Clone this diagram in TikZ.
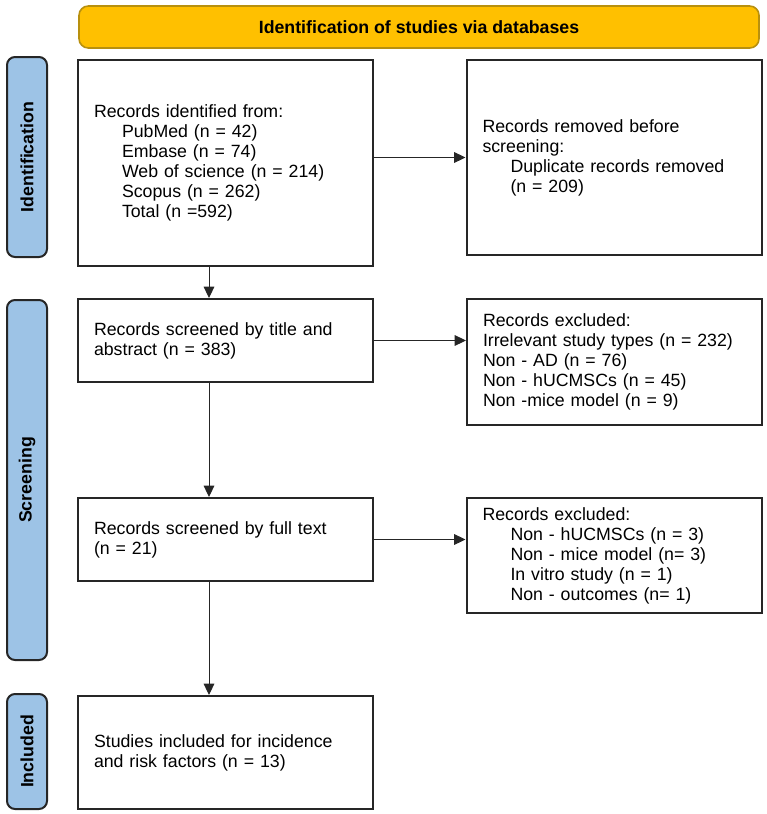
\documentclass[tikz,border=0pt]{standalone}
\usepackage{fontspec}
\setmainfont{Liberation Sans}
\usetikzlibrary{arrows.meta, positioning, calc}
\definecolor{cgold}{HTML}{FFC000}
\definecolor{cgoldline}{HTML}{B8900E}
\definecolor{cblue}{HTML}{9DC3E6}
\definecolor{cdark}{HTML}{262626}
\tikzset{
  every picture/.style={line width=0.75pt},
  box/.style={draw=cdark, line width=1.5pt, fill=white, align=left, inner xsep=12pt, inner ysep=0pt,
    text width=197.25pt, font=\fontsize{13.3}{15}\selectfont},
  tab/.style={draw=cdark, fill=cblue, line width=1.5pt, rounded corners=6pt, minimum height=30pt,
    inner sep=0pt, font=\fontsize{13.3}{15}\selectfont\bfseries},
  banner/.style={draw=cgoldline, fill=cgold, line width=1.2pt, rounded corners=7pt, minimum width=510pt,
    minimum height=31.5pt, font=\fontsize{13.3}{15}\selectfont\bfseries},
  arrow/.style={-{Triangle[length=8.5pt, width=8pt]}, draw=cdark, line width=0.75pt},
}
\newcommand\tabin{\hspace*{21pt}}

\begin{document}
\begin{tikzpicture}[x=0.75pt, y=-0.75pt]
  \useasboundingbox (0,0) rectangle (767,814);
  \node[banner] (head) at (419,27) {Identification of studies via databases};
  % phase tabs on the left
  \foreach[count=\k] \y/\h/\t in {157/150pt/Identification, 480/270pt/Screening, 751.5/86.25pt/Included}
    \node[tab, rotate=90, minimum width=\h] (tab\k) at (27,\y) {\t};
  % main column
  \node[box, minimum height=154.5pt] (ident) at (225.5,163) {Records identified from:\\
    \tabin PubMed (n = 42)\\ \tabin Embase (n = 74)\\ \tabin Web of science (n = 214)\\
    \tabin Scopus (n = 262)\\ \tabin Total (n =592)};
  \node[box, minimum height=62.25pt] (title) at (225.5,340.5) {Records screened by title and\\abstract (n = 383)};
  \node[box, minimum height=62.25pt] (full) at (225.5,539.5) {Records screened by full text\\(n = 21)};
  \node[box, minimum height=84.75pt] (incl) at (225.5,752.5) {Studies included for incidence\\and risk factors (n = 13)};
  % side column
  \node[box, minimum height=146.25pt] (removed) at (614,157.5) {Records removed before\\screening:\\
    \tabin Duplicate records removed\\ \tabin (n = 209)};
  \node[box, minimum height=94.5pt] (excl1) at (614.5,362) {Records excluded:\\Irrelevant study types (n = 232)\\
    Non - AD (n = 76)\\Non - hUCMSCs (n = 45)\\Non -mice model (n = 9)};
  \node[box, minimum height=86.25pt] (excl2) at (614,555.5) {Records excluded:\\
    \tabin Non - hUCMSCs (n = 3)\\ \tabin Non - mice model (n= 3)\\ \tabin In vitro study (n = 1)\\
    \tabin Non - outcomes (n= 1)};
  % connectors
  \coordinate (spine) at (209,0);
  \draw[arrow] (ident.south -| spine) -- (title.north -| spine);
  \draw[arrow] (title.south -| spine) -- (full.north -| spine);
  \draw[arrow] (full.south -| spine) -- (incl.north -| spine);
  \draw[arrow] (ident.east |- removed.west) -- (removed.west);
  \draw[arrow] (title.east) -- (title.east -| excl1.west);
  \draw[arrow] (full.east) -- (full.east -| excl2.west);
\end{tikzpicture}
\end{document}
